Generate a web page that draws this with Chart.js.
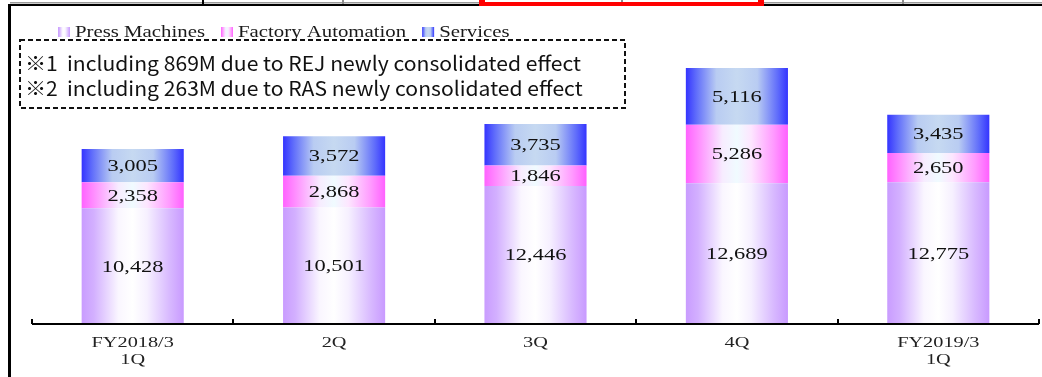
<!DOCTYPE html>
<html>
<head>
<meta charset="utf-8">
<script src="https://cdn.jsdelivr.net/npm/chart.js@4/dist/chart.umd.min.js"></script>
<style>
  html, body { margin: 0; padding: 0; background: #fff; }
  canvas { display: block; }
</style>
</head>
<body>
<canvas id="chart" width="1042" height="377"></canvas>
<script>
// Quarterly sales by segment (million yen)
const categories = [['FY2018/3', '1Q'], ['2Q'], ['3Q'], ['4Q'], ['FY2019/3', '1Q']];
const pressMachines = [10428, 10501, 12446, 12689, 12775];
const factoryAutomation = [2358, 2868, 1846, 5286, 2650];
const services = [3005, 3572, 3735, 5116, 3435];
const seriesNames = ['Press Machines', 'Factory Automation', 'Services'];
const noteMarks = ['※1', '※2'];
const noteTexts = [
  'including 869M due to REJ newly consolidated effect',
  'including 263M due to RAS newly consolidated effect'
];

// Horizontal shading of each segment: saturated edges, pale centre
const shading = [
  [[0, '#c99cff'], [0.12, '#d3b0ff'], [0.36, '#faf6ff'], [0.5, '#ffffff'], [0.64, '#f6f0ff'], [0.86, '#d8b9ff'], [1, '#c89aff']],
  [[0, '#ff62ff'], [0.12, '#ff8eff'], [0.36, '#f7ecff'], [0.5, '#f0fbff'], [0.64, '#fde6ff'], [0.86, '#ff9aff'], [1, '#ff60ff']],
  [[0, '#3434ff'], [0.1, '#5f6cfb'], [0.3, '#b9ccf2'], [0.5, '#c6d9f1'], [0.7, '#b9ccf2'], [0.9, '#5f6cfb'], [1, '#3434ff']]
];

const SERIF = '"Liberation Serif", "Times New Roman", serif';
const SANS = '"Noto Sans CJK JP", "Noto Sans", sans-serif';

function makeGradient(ctx, x0, x1, stops) {
  const g = ctx.createLinearGradient(x0, 0, x1, 0);
  stops.forEach(([o, c]) => g.addColorStop(o, c));
  return g;
}

function wideText(ctx, text, x, y, sx, align) {
  ctx.save();
  ctx.translate(x, y);
  ctx.scale(sx, 1);
  ctx.textAlign = align || 'center';
  ctx.fillText(text, 0, 0);
  ctx.restore();
}

// Page frame above the chart
const framePlugin = {
  id: 'frame',
  beforeDraw(chart) {
    const ctx = chart.ctx;
    ctx.save();
    ctx.fillStyle = '#ffffff';
    ctx.fillRect(0, 0, chart.width, chart.height);
    ctx.fillStyle = '#9a9a9a';
    ctx.fillRect(10, 2, 1032, 1.5);
    ctx.fillStyle = '#000000';
    ctx.fillRect(8, 4, 1034, 2);
    ctx.fillRect(8, 4, 3, chart.height);
    ctx.fillRect(202, 0, 2, 5);
    ctx.fillStyle = '#8c8c8c';
    [343, 622, 903].forEach(x => ctx.fillRect(x - 1, 0, 2, 4));
    ctx.fillStyle = '#ff0000';
    ctx.fillRect(479, 0, 6, 6);
    ctx.fillRect(758, 0, 6, 6);
    ctx.fillRect(479, 2, 285, 4);
    ctx.restore();
  }
};

// Per-bar horizontal gradients
const shadePlugin = {
  id: 'shade',
  beforeDatasetsDraw(chart) {
    const ctx = chart.ctx;
    chart.data.datasets.forEach((ds, i) => {
      chart.getDatasetMeta(i).data.forEach(el => {
        const x0 = el.x - el.width / 2;
        el.options.backgroundColor = makeGradient(ctx, x0, x0 + el.width, shading[i]);
      });
    });
  }
};

// Axis line, boundary ticks, category labels, segment values, legend and note box
const decorPlugin = {
  id: 'decor',
  afterDatasetsDraw(chart) {
    const ctx = chart.ctx;
    const xs = chart.scales.x;
    const ys = chart.scales.y;
    const base = ys.getPixelForValue(0);
    const n = categories.length;
    ctx.save();

    // segment values
    ctx.fillStyle = '#111';
    ctx.font = '17px ' + SERIF;
    ctx.textBaseline = 'middle';
    chart.data.datasets.forEach((ds, i) => {
      chart.getDatasetMeta(i).data.forEach((el, j) => {
        const cy = (el.y + el.base) / 2 + 1;
        wideText(ctx, ds.data[j].toLocaleString('en-US'), el.x, cy, 1.32, 'center');
      });
    });

    // axis line with upward ticks at category boundaries
    ctx.fillStyle = '#000';
    ctx.fillRect(xs.left, base - 1, xs.right - xs.left, 2);
    for (let i = 0; i <= n; i++) {
      let bx;
      if (i === 0) bx = xs.left;
      else if (i === n) bx = xs.right;
      else bx = (xs.getPixelForValue(i - 1) + xs.getPixelForValue(i)) / 2;
      ctx.fillRect(Math.round(bx) - 1, base - 5, 2, 5);
    }

    // category labels
    ctx.fillStyle = '#222';
    ctx.font = '14px ' + SERIF;
    categories.forEach((lines, i) => {
      const cx = xs.getPixelForValue(i);
      lines.forEach((t, k) => wideText(ctx, t, cx, base + 19 + k * 17.5, 1.45, 'center'));
    });

    // note box
    ctx.strokeStyle = '#111';
    ctx.lineWidth = 2;
    ctx.setLineDash([5, 3]);
    ctx.strokeRect(20, 40, 605, 68);
    ctx.setLineDash([]);
    ctx.fillStyle = '#111';
    ctx.font = '20px ' + SANS;
    ctx.textBaseline = 'alphabetic';
    const noteScale = 514 / ctx.measureText(noteTexts[0]).width;
    noteTexts.forEach((t, k) => {
      const y = 71 + k * 24.5;
      wideText(ctx, noteMarks[k], 25, y, noteScale, 'left');
      wideText(ctx, t, 67, y, noteScale, 'left');
    });

    // legend
    ctx.font = '17px ' + SERIF;
    ctx.textBaseline = 'alphabetic';
    const legendScale = 130 / ctx.measureText(seriesNames[0]).width;
    let lx = 58;
    seriesNames.forEach((name, i) => {
      ctx.fillStyle = makeGradient(ctx, lx, lx + 12, shading[i]);
      ctx.fillRect(lx, 27, 12, 10);
      ctx.fillStyle = '#1a1a1a';
      const tw = ctx.measureText(name).width * legendScale;
      wideText(ctx, name, lx + 17, 37, legendScale, 'left');
      lx += 17 + tw + 16;
    });

    ctx.restore();
  }
};

new Chart(document.getElementById('chart'), {
  type: 'bar',
  data: {
    labels: categories,
    datasets: [
      { label: seriesNames[0], data: pressMachines, backgroundColor: () => shading[0][0][1] },
      { label: seriesNames[1], data: factoryAutomation, backgroundColor: () => shading[1][0][1] },
      { label: seriesNames[2], data: services, backgroundColor: () => shading[2][0][1] }
    ]
  },
  options: {
    responsive: false,
    animation: false,
    devicePixelRatio: 1,
    layout: { padding: { left: 32, right: 3, top: 49, bottom: 53 } },
    datasets: { bar: { barPercentage: 0.507, categoryPercentage: 1, borderWidth: 0 } },
    plugins: { legend: { display: false }, tooltip: { enabled: false } },
    scales: {
      x: { stacked: true, display: false },
      y: { stacked: true, display: false, min: 0, max: 24800 }
    }
  },
  plugins: [framePlugin, shadePlugin, decorPlugin]
});
</script>
</body>
</html>
